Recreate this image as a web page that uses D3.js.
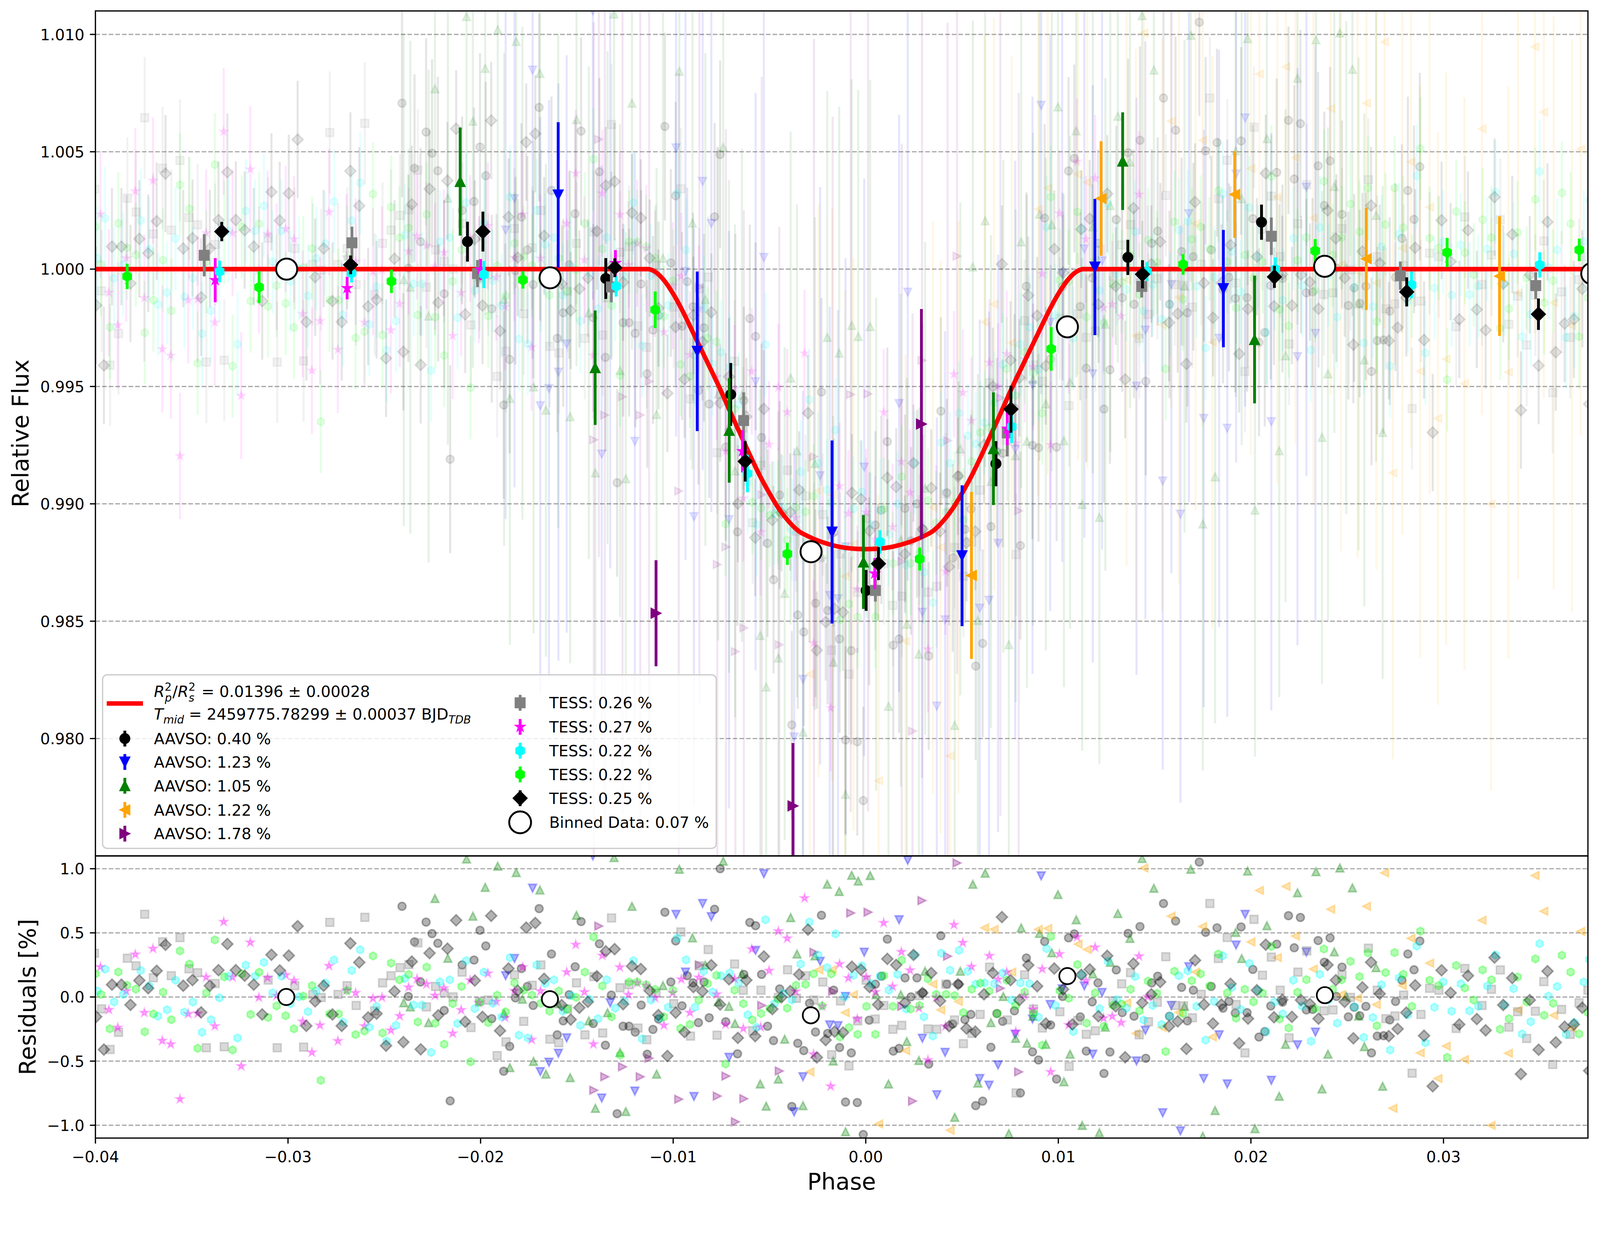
<!DOCTYPE html>
<html><head><meta charset="utf-8">
<script src="https://cdn.jsdelivr.net/npm/d3@7"></script>
<style>html,body{margin:0;padding:0;background:#fff;overflow:hidden;width:100%;height:100%;}svg{display:block;font-family:"DejaVu Sans",sans-serif;}</style>
</head><body>
<svg id="chart" viewBox="0 0 4242 3192" preserveAspectRatio="xMinYMin meet" style="width:100vw;height:100vh;"></svg>
<script>
// ---------------- DATA ----------------
const xTicks = [-0.04,-0.03,-0.02,-0.01,0.00,0.01,0.02,0.03];
const topYTicks = [0.980,0.985,0.990,0.995,1.000,1.005,1.010];
const resYTicks = [-1.0,-0.5,0.0,0.5,1.0];

const legendLabels = ["AAVSO: 0.40 %","AAVSO: 1.23 %","AAVSO: 1.05 %","AAVSO: 1.22 %","AAVSO: 1.78 %",
  "TESS: 0.26 %","TESS: 0.27 %","TESS: 0.22 %","TESS: 0.22 %","TESS: 0.25 %"];
const binnedLabel = "Binned Data: 0.07 %";
const rawErrPct = [0.40,1.23,1.05,1.22,1.78,0.26,0.27,0.22,0.22,0.25];

// transit model (phase, relative flux)
const modelPhase = [-0.0400,-0.0113,-0.0110,-0.0105,-0.0100,-0.0095,-0.0090,-0.0085,-0.0080,-0.0075,-0.0070,-0.0065,-0.0060,-0.0055,-0.0050,-0.0045,-0.0040,-0.0035,-0.0030,-0.0020,-0.0010,0.0000,0.0010,0.0020,0.0030,0.0035,0.0040,0.0045,0.0050,0.0055,0.0060,0.0065,0.0070,0.0075,0.0080,0.0085,0.0090,0.0095,0.0100,0.0105,0.0110,0.0113,0.0375];
const modelFlux = [1.0000,1.0000,0.99992,0.99955,0.99895,0.99820,0.99735,0.99650,0.99565,0.99478,0.99385,0.99295,0.99205,0.99120,0.99045,0.98978,0.98925,0.98885,0.98862,0.98830,0.98812,0.98807,0.98812,0.98830,0.98862,0.98885,0.98925,0.98978,0.99045,0.99120,0.99205,0.99295,0.99385,0.99478,0.99565,0.99650,0.99735,0.99820,0.99895,0.99955,0.99992,1.0000,1.0000];

// binned points per data set: [phase, flux, error]
const aavso040Bin = [[-0.02068,1.00117,0.00085],[-0.0135,0.9996,0.00087],[-0.00701,0.99466,0.00134],[0.00002,0.98631,0.00087],[0.00676,0.99171,0.00096],[0.01361,1.0005,0.00075],[0.02055,1.0020,0.00075]];
const aavso123Bin = [[-0.01597,1.00316,0.0031],[-0.00875,0.99650,0.0034],[-0.00175,0.9888,0.0039],[0.005,0.98779,0.0030],[0.0119,1.00009,0.0029],[0.01857,0.99917,0.0025]];
const aavso105Bin = [[-0.02106,1.00373,0.0023],[-0.01405,0.9958,0.00244],[-0.00709,0.99313,0.00223],[-0.00012,0.98752,0.0020],[0.00663,0.99235,0.0024],[0.01334,1.0046,0.00208],[0.02019,0.9970,0.00272]];
const aavso122Bin = [[0.00549,0.98695,0.00356],[0.01222,1.00301,0.00244],[0.01916,1.00318,0.00185],[0.02599,1.00044,0.00218],[0.03291,0.9997,0.00255]];
const aavso178Bin = [[-0.01089,0.98534,0.00226],[-0.00378,0.97713,0.00268],[0.00289,0.9934,0.0049]];
const tess026Bin = [[-0.03435,1.00059,0.0009],[-0.02668,1.00112,0.00069],[-0.02016,0.99981,0.00058],[-0.01321,0.99924,0.00065],[-0.00634,0.99355,0.0012],[0.0005,0.98631,0.00047],[0.00735,0.99302,0.001],[0.01433,0.99926,0.00047],[0.02106,1.0014,0.0008],[0.02776,0.99972,0.0006],[0.03479,0.9993,0.00057]];
const tess027Bin = [[-0.03378,0.99953,0.00094],[-0.02693,0.99919,0.00048],[-0.0200,0.99998,0.00045],[-0.0130,1.00026,0.00055],[-0.0064,0.99224,0.0009],[0.00047,0.98703,0.00066],[0.00735,0.9932,0.0007]];
const tess022cBin = [[-0.03355,0.9999,0.00046],[-0.0267,0.99983,0.0004],[-0.01983,0.99977,0.00058],[-0.01296,0.99927,0.00044],[-0.00614,0.99129,0.0008],[0.00074,0.98838,0.0005],[0.00758,0.99329,0.0007],[0.0146,0.9999,0.0004],[0.02127,1.0000,0.0005],[0.02834,0.99933,0.00057],[0.035,1.00018,0.00054]];
const tess022lBin = [[-0.03835,0.99969,0.00054],[-0.0315,0.99923,0.00068],[-0.02463,0.99948,0.0005],[-0.0178,0.99954,0.00037],[-0.01093,0.99827,0.00078],[-0.00407,0.98787,0.00047],[0.0028,0.98765,0.00049],[0.00963,0.9966,0.00093],[0.01648,1.0002,0.00044],[0.02334,1.00078,0.0005],[0.03019,1.00071,0.00062],[0.03705,1.00082,0.00048]];
const tess025Bin = [[-0.03344,1.0016,0.00041],[-0.02675,1.00018,0.0004],[-0.01988,1.0016,0.00085],[-0.01303,1.00006,0.0004],[-0.00626,0.99181,0.00086],[0.00066,0.98745,0.0007],[0.00754,0.99403,0.001],[0.01437,0.99978,0.0006],[0.02122,0.99967,0.00047],[0.02809,0.99903,0.00062],[0.03493,0.99808,0.00067]];

// all-data binned points
const binTop = [[-0.03007,1.0000],[-0.01639,0.99963],[-0.00284,0.98796],[0.01047,0.99754],[0.02383,1.00012],[0.0377,0.99981]];
const binRes = [[-0.03009,0.0],[-0.0164,-0.017],[-0.00285,-0.143],[0.01047,0.163],[0.02384,0.014]];

// unbinned residuals per data set: [phase, residual %]
const aavso040Res = [[-0.02408,0.707],[-0.02375,0.004],[-0.02343,0.43],[-0.02312,0.117],[-0.02283,0.584],[-0.02252,0.494],[-0.02222,0.419],[-0.02189,-0.105],[-0.02158,-0.81],[-0.02096,0.25],[-0.02034,0.288],[-0.02003,0.52],[-0.01973,0.398],[-0.01942,-0.169],[-0.0188,-0.579],[-0.01849,-0.385],[-0.01819,-0.007],[-0.01788,0.222],[-0.01757,0.082],[-0.01727,-0.066],[-0.01696,0.689],[-0.01632,0.335],[-0.01602,-0.295],[-0.01571,-0.186],[-0.0154,0.018],[-0.01509,0.236],[-0.01478,0.588],[-0.01415,-0.207],[-0.01383,0.415],[-0.01352,-0.376],[-0.01321,0.015],[-0.01291,-0.91],[-0.0126,-0.228],[-0.01229,-0.228],[-0.01197,-0.274],[-0.01166,-0.063],[-0.01135,-0.446],[-0.01105,-0.253],[-0.01076,-0.172],[-0.01043,0.661],[-0.01012,0.117],[-0.00987,0.437],
 [-0.00954,-0.069],[-0.00927,0.166],[-0.00897,0.11],[-0.00869,-0.2],[-0.0084,0.117],[-0.00813,-0.162],[-0.00785,0.684],[-0.00756,1.0],[-0.00727,-0.193],[-0.00666,-0.443],[-0.00633,0.176],[-0.00602,0.581],[-0.00572,0.556],[-0.00541,0.176],[-0.0051,-0.228],[-0.00479,-0.34],[-0.00447,0.063],[-0.00384,-0.854],[-0.00353,-0.361],[-0.00322,-0.418],[-0.00292,-0.049],[-0.00261,-0.273],[-0.0023,0.637],[-0.00198,-0.284],[-0.00167,0.053],[-0.00136,-0.394],[-0.00105,-0.819],[-0.00075,-0.436],[-0.00044,-0.823],[-0.00013,-1.072],[0.00018,-0.181],[0.0005,0.1],[0.00081,0.162],[0.00112,0.451],[0.00143,-0.422],[0.00173,-0.401],[0.00204,0.149],[0.00235,0.001],[0.00266,0.149],[0.00297,0.032],[0.00327,-0.523],[0.0039,0.478],[0.00421,0.1],[0.00452,-0.211],[0.00482,0.1],[0.00515,-0.176],[0.00546,-0.136],[0.00571,-0.847],
 [0.00607,-0.812],[0.0065,-0.392],[0.00681,-0.129],[0.00711,-0.19],[0.00772,-0.108],[0.00803,-0.748],[0.00834,0.304],[0.00866,-0.428],[0.00897,-0.491],[0.00929,0.433],[0.0096,-0.218],[0.00991,-0.64],[0.01022,0.004],[0.01053,0.461],[0.01083,0.492],[0.01114,-0.155],[0.01145,-0.422],[0.01176,-0.038],[0.01206,0.11],[0.01237,-0.596],[0.01268,-0.429],[0.01301,0.211],[0.01332,-0.122],[0.01362,0.496],[0.01393,-0.15],[0.01424,0.549],[0.01454,-0.478],[0.01485,0.11],[0.01516,0.162],[0.01546,0.729],[0.01577,-0.15],[0.01609,0.592],[0.0164,0.075],[0.0167,-0.186],[0.01701,0.053],[0.01732,1.052],[0.01765,0.504],[0.01794,0.082],[0.01824,0.539],[0.01855,-0.087],[0.01886,-0.035],[0.01919,-0.125],[0.01949,0.546],[0.0198,-0.122],[0.0201,0.215],[0.02042,-0.312],[0.02072,-0.27],[0.02103,-0.07],[0.02134,0.412],
 [0.02164,-0.04],[0.02195,0.634],[0.02225,0.384],[0.02257,0.62],[0.02288,-0.101],[0.0232,-0.097],[0.02349,0.44],[0.02381,0.271],[0.02411,0.461],[0.02444,0.004],[0.02473,0.233],[0.02506,-0.155],[0.02536,-0.08],[0.02565,-0.146],[0.02597,-0.073],[0.02626,-0.436],[0.02656,-0.305],[0.02689,-0.302],[0.02721,-0.179],[0.02751,-0.035],[0.02784,0.131],[0.02815,0.335],[0.02847,0.212],[0.02877,0.436]];
const aavso123Res = [[-0.0187,0.166],[-0.01824,0.3],[-0.0173,0.848],[-0.0169,-0.582],[-0.01645,-0.509],[-0.01596,-0.439],[-0.01553,-0.319],[-0.01417,1.1],[-0.01371,-0.788],[-0.01327,-0.045],[-0.01199,-0.734],[-0.00985,0.644],
 [-0.00936,0.194],[-0.00892,-0.776],[-0.00847,0.729],[-0.00802,0.626],[-0.0071,-0.471],[-0.00572,0.363],[-0.00529,0.961],[-0.00372,-0.896],[-0.00326,-0.622],[-0.00237,0.278],[-0.00187,-0.218],[-0.00144,-0.224],[-0.00105,0.004],[-0.00008,0.349],[0.00173,0.602],[0.00218,1.066],[0.00294,-0.322],[0.00369,-0.762],[0.00412,-0.432],[0.00592,-0.636],
 [0.0064,-0.688],[0.00687,-0.53],[0.00776,-0.291],[0.00866,-0.172],[0.00911,0.944],[0.00958,-0.059],[0.0102,0.063],[0.01135,0.086],[0.01179,-0.446],[0.01227,0.035],[0.01406,-0.499],[0.01452,-0.26],[0.01542,-0.903],[0.01587,-0.066],[0.01634,-1.044],[0.01678,0.236],[0.01755,-0.636],[0.01835,-0.295],[0.01877,-0.678],[0.01923,0.405],[0.0197,0.644],[0.02106,-0.65],
 [0.02242,-0.373],[0.02288,0.349],[0.02335,-0.274]];
const aavso105Res = [[-0.02399,-0.045],[-0.02365,-0.077],[-0.0227,-0.2],[-0.02237,0.768],[-0.0217,0.302],[-0.02073,1.076],[-0.0204,0.63],[-0.01976,0.855],[-0.01911,1.02],[-0.01878,-0.129],[-0.01848,-0.551],[-0.01815,0.97],[-0.01783,-0.017],[-0.01725,-0.502],[-0.01692,0.834],[-0.01661,-0.601],[-0.01597,-0.052],[-0.01535,-0.629],[-0.01502,0.637],[-0.01438,-0.186],[-0.01404,-0.868],[-0.01341,-0.122],[-0.01307,1.087],[-0.01276,-0.432],[-0.01246,-0.893],[-0.01214,0.707],[-0.01086,-0.601],[-0.01053,0.089],[-0.00968,0.996],
 [-0.009,0.461],[-0.00833,0.25],[-0.00766,-0.038],[-0.0074,1.059],[-0.0071,-0.073],[-0.00679,-0.207],[-0.00643,0.18],[-0.00548,-0.678],[-0.00517,-0.851],[-0.00454,-0.64],[-0.00421,-0.329],[-0.0039,0.619],[-0.00357,0.335],[-0.00326,-0.847],[-0.00264,0.321],[-0.002,0.879],[-0.00169,-0.499],[-0.00138,0.823],[-0.00105,-1.051],[-0.00073,0.949],[-0.00039,0.904],[0.00023,0.947],[0.00054,0.018],[0.00118,-0.678],[0.00182,0.018],[0.00213,-0.347],[0.00276,-0.495],[0.00308,0.201],[0.00462,-0.938],[0.00491,0.201],[0.00556,0.879],[0.00582,-0.671],
 [0.0062,0.965],[0.0065,-0.2],[0.00714,0.004],[0.00743,-1.065],[0.00778,-0.322],[0.00807,0.539],[0.00837,-0.361],[0.00868,-0.15],[0.00902,0.496],[0.00935,-0.369],[0.00966,0.345],[0.00998,0.799],[0.01029,-0.661],[0.01061,-0.446],[0.01093,0.602],[0.01124,-1.001],[0.01179,0.18],[0.01213,-1.058],[0.01244,-0.235],[0.0127,0.271],[0.01309,0.651],[0.01372,0.457],[0.01435,1.08],[0.01496,0.848],[0.01655,-0.073],[0.01688,0.996],[0.0175,-1.086],[0.01814,-0.885],[0.01921,0.504],[0.01952,0.3],[0.01983,0.982],[0.02021,-1.027],[0.02083,0.556],[0.02147,-0.774],
 [0.0218,-0.369],[0.02242,0.813],[0.02338,0.977],[0.02369,-0.717],[0.024,-0.446],[0.02433,0.352],[0.02462,1.006],[0.02495,0.007],[0.02527,0.851],[0.02559,-0.148],[0.02589,-0.387],[0.0265,0.229],[0.02684,-0.696]];
const aavso122Res = [[-0.0029,-0.584],[-0.00244,0.212],[-0.00175,0.212],[-0.00107,-0.122],[-0.00064,0.018],[0.00067,-0.99],[0.00207,-0.418],[0.00349,0.1],[0.00389,-0.101],[0.00438,-1.039],[0.00481,-0.035],
 [0.00617,0.539],[0.00666,0.527],[0.00758,0.194],[0.00896,0.527],[0.00945,0.534],[0.01102,0.412],[0.0115,0.37],[0.01355,-0.045],[0.01403,-0.284],[0.01444,1.006],[0.01539,-0.238],[0.01585,0.63],[0.01626,-0.12],[0.01713,0.194],[0.01749,0.549],[0.018,-0.312],[0.02,0.429],[0.02044,0.831],[0.02137,0.307],
 [0.02182,0.862],[0.02231,0.475],[0.02324,0.218],[0.02414,0.684],[0.02468,0.018],[0.02554,-0.01],[0.026,0.707],[0.02651,-0.059],[0.02694,0.968],[0.02737,-0.868],[0.02786,0.089],[0.02831,0.457],[0.02879,-0.436],[0.02928,0.264],[0.02971,-0.636],[0.03014,-0.383],[0.03109,-0.488],[0.032,0.598],[0.03247,-1.001],[0.03337,-0.439],[0.03387,-0.101],[0.03475,0.947],[0.03521,0.669],[0.03572,-0.143],[0.03667,-0.242],[0.03712,0.511]];
const aavso178Res = [[-0.01412,-0.727],[-0.01386,0.553],[-0.01355,-0.622],[-0.01263,-0.544],[-0.01171,-0.622],[-0.01125,-0.477],[-0.00971,-0.797],
 [-0.00864,0.25],[-0.00771,-0.773],[-0.00726,-0.617],[-0.00677,-0.973],[-0.00633,-0.793],[-0.0054,-0.066],[-0.00449,-0.577],[-0.00269,0.349],[-0.00172,0.044],[-0.00078,0.655],[0.00012,0.661],[0.00187,-0.073],[0.00243,-0.812],[0.00292,0.752],[0.00425,0.318],[0.00474,1.045],
 [0.00699,0.068],[0.00794,-0.584]];
const tess026Res = [[-0.04005,0.341],[-0.03968,-0.093],[-0.03924,-0.409],[-0.0388,-0.275],[-0.03834,0.302],[-0.03789,0.243],[-0.03744,0.645],[-0.03699,0.15],[-0.03651,0.43],[-0.03606,0.166],[-0.03561,0.463],[-0.03514,0.22],[-0.03469,0.189],[-0.03424,-0.396],[-0.03378,0.105],[-0.03331,-0.388],[-0.03103,0.132],[-0.03056,-0.396],[-0.02965,0.088],[-0.02919,-0.391],[-0.02871,0.02],[-0.02828,-0.004],[-0.02783,0.582],[-0.0274,0.02],[-0.02693,0.088],[-0.02646,-0.066],[-0.02601,0.621],
 [-0.0255,-0.108],[-0.02509,0.11],[-0.02465,0.166],[-0.02418,0.229],[-0.02372,0.253],[-0.02326,0.422],[-0.02281,-0.077],[-0.02234,0.082],[-0.02189,0.032],[-0.02143,0.001],[-0.02096,0.194],[-0.0205,-0.238],[-0.02006,-0.035],[-0.0196,-0.024],[-0.01914,-0.457],[-0.01868,-0.35],[-0.01824,0.173],[-0.01776,-0.19],[-0.01732,0.091],[-0.01687,0.25],[-0.0164,-0.329],[-0.01594,-0.357],[-0.01548,-0.094],[-0.01502,0.11],[-0.01458,-0.295],[-0.01412,0.159],[-0.01366,-0.281],[-0.0132,0.616],[-0.01276,0.072],[-0.01229,0.096],[-0.01183,-0.242],[-0.01137,-0.333],[-0.01089,0.032],[-0.00997,-0.052],
 [-0.0096,0.507],[-0.0091,-0.305],[-0.00864,0.243],[-0.00818,0.37],[-0.00772,-0.298],[-0.00681,0.257],[-0.00636,0.053],[-0.00587,-0.263],[-0.00544,0.053],[-0.00454,-0.003],[-0.00406,0.212],[-0.0036,-0.01],[-0.00313,0.166],[-0.00269,-0.024],[-0.00223,0.117],[-0.00177,-0.45],[-0.00131,-0.031],[-0.00087,-0.537],[-0.00042,-0.186],[0.00002,0.131],[0.00049,-0.172],[0.00094,-0.066],[0.00141,-0.252],[0.00187,-0.221],[0.00279,0.011],[0.00323,-0.249],[0.00369,-0.252],[0.00416,0.1],[0.00461,-0.179],[0.00507,-0.364],[0.00551,-0.284],[0.00594,-0.136],
 [0.00643,0.233],[0.00735,-0.179],[0.00781,-0.748],[0.00825,0.173],[0.00871,-0.094],[0.00917,-0.242],[0.01008,-0.115],[0.01056,-0.541],[0.01101,-0.183],[0.01145,-0.291],[0.01192,-0.263],[0.01283,-0.031],[0.01329,0.103],[0.01375,0.19],[0.0142,-0.295],[0.01468,-0.193],[0.01514,-0.041],[0.01558,0.314],[0.01606,-0.066],[0.0165,-0.069],[0.01696,-0.162],[0.01742,0.021],[0.01787,0.729],[0.01831,0.3],[0.01877,0.464],[0.01923,-0.059],[0.01969,-0.436],[0.02016,0.605],[0.0206,0.17],[0.02106,0.311],
 [0.02152,0.053],[0.02198,-0.319],[0.02244,0.194],[0.0229,0.36],[0.02379,-0.108],[0.02426,-0.101],[0.02473,0.173],[0.02517,-0.003],[0.0261,0.381],[0.02656,0.053],[0.02701,-0.169],[0.02748,-0.148],[0.02793,0.015],[0.02837,-0.594],[0.02883,-0.136],[0.02928,0.068],[0.02976,0.053],[0.03066,-0.245],[0.03111,0.222],[0.032,-0.066],[0.03249,0.06],[0.03295,0.211],[0.0334,-0.235],[0.03385,-0.115],[0.03432,-0.323],[0.03477,-0.111],[0.03521,0.12],[0.03567,-0.526],[0.03613,-0.097],[0.03658,-0.291],[0.03704,-0.045],[0.0375,0.053]];
const tess027Res = [[-0.03974,0.234],[-0.0393,-0.1],[-0.03884,-0.239],[-0.0384,0.046],[-0.03793,0.332],[-0.03746,-0.123],[-0.03701,0.377],[-0.03653,-0.341],[-0.03609,-0.368],[-0.03561,-0.796],[-0.03518,-0.132],[-0.03469,-0.129],[-0.03425,0.154],[-0.0338,-0.227],[-0.03334,0.586],[-0.03288,0.154],[-0.03243,-0.539],[-0.03196,0.425],[-0.03151,-0.004],[-0.03106,0.15],[-0.03059,0.01],[-0.03012,0.171],[-0.02969,0.127],[-0.02924,-0.191],[-0.02876,-0.432],[-0.02834,-0.221],[-0.02787,0.243],[-0.02741,-0.343],[-0.02696,0.05],[-0.02649,0.032],[-0.02603,-0.227],[-0.02559,-0.011],
 [-0.02512,-0.003],[-0.02466,-0.26],[-0.0242,-0.148],[-0.02374,0.075],[-0.0233,0.141],[-0.02281,0.1],[-0.02237,0.011],[-0.02191,0.07],[-0.02145,-0.284],[-0.02101,-0.101],[-0.02054,0.131],[-0.02009,-0.045],[-0.01962,0.184],[-0.01919,-0.035],[-0.01873,-0.16],[-0.01824,0.049],[-0.01781,0.233],[-0.01735,-0.333],[-0.01689,0.046],[-0.01553,0.194],[-0.01506,0.408],[-0.01461,0.039],[-0.01414,-0.368],[-0.01368,0.323],[-0.01277,0.232],[-0.01233,0.018],[-0.01187,0.11],[-0.0114,0.089],[-0.01094,-0.007],[-0.01048,-0.221],[-0.01002,0.032],
 [-0.00958,0.138],[-0.00913,-0.122],[-0.00867,0.152],[-0.00774,0.021],[-0.00728,-0.214],[-0.00681,0.141],[-0.00636,-0.246],[-0.00592,0.373],[-0.00546,-0.235],[-0.00502,0.205],[-0.00454,0.513],[-0.00408,0.457],[-0.00364,0.044],[-0.00318,0.771],[-0.00271,-0.446],[-0.00226,-0.073],[-0.00182,-0.696],[-0.00136,0.257],[-0.0009,0.148],[-0.00044,-0.172],[0.00002,0.156],[0.00049,0.039],[0.00093,0.578],[0.00139,0.082],[0.00185,0.352],[0.0023,0.208],[0.00276,-0.087],[0.00323,-0.492],[0.00366,-0.003],[0.00414,-0.228],[0.00458,0.563],[0.00504,0.423],[0.00549,0.236],
 [0.00642,0.321],[0.00687,0.138],[0.00732,0.194],[0.00779,-0.27],[0.00824,0.011],[0.00868,-0.097],[0.00916,0.218],[0.0096,-0.584],[0.01006,0.335],[0.01054,-0.218],[0.01097,0.468],[0.01143,0.127],[0.01191,0.387],[0.01235,-0.165],[0.0128,-0.15],[0.01326,-0.2],[0.01419,0.318],[0.01464,0.001]];
const tess022cRes = [[-0.0399,0.046],[-0.0395,0.216],[-0.03903,-0.039],[-0.03856,0.02],[-0.03765,0.207],[-0.03721,0.086],[-0.03675,-0.15],[-0.03628,-0.1],[-0.03584,0.13],[-0.03538,-0.118],[-0.03494,-0.039],[-0.03446,-0.275],[-0.034,-0.177],[-0.03356,-0.007],[-0.03309,0.163],[-0.03262,-0.32],[-0.03219,0.248],[-0.03171,0.163],[-0.03125,0.27],[-0.0308,0.032],[-0.03034,0.163],[-0.02987,-0.052],[-0.02943,0.002],[-0.02896,-0.114],[-0.02853,0.046],[-0.02806,0.109],[-0.02761,0.288],[-0.02715,-0.195],[-0.02669,0.207],[-0.02625,0.368],[-0.02578,-0.236],[-0.0254,-0.075],
 [-0.02488,-0.345],[-0.02439,-0.221],[-0.02393,0.145],[-0.02348,-0.063],[-0.02304,-0.063],[-0.02257,-0.432],[-0.02211,0.117],[-0.0216,0.134],[-0.0212,-0.207],[-0.02075,0.283],[-0.0203,-0.09],[-0.01983,0.194],[-0.01937,-0.049],[-0.01891,-0.155],[-0.01847,0.307],[-0.01801,-0.298],[-0.01755,-0.319],[-0.01709,0.25],[-0.01665,0.105],[-0.01619,0.134],[-0.01573,-0.111],[-0.0153,0.011],[-0.01482,-0.221],[-0.01436,-0.017],[-0.0139,-0.169],[-0.01345,0.135],[-0.01301,-0.087],[-0.01253,-0.031],[-0.01207,0.283],[-0.01161,-0.326],[-0.01115,-0.024],[-0.0107,-0.165],[-0.01026,-0.08],
 [-0.0098,0.459],[-0.00933,0.29],[-0.00887,-0.08],[-0.00841,0.201],[-0.00795,0.039],[-0.00751,0.166],[-0.00706,0.187],[-0.0066,0.11],[-0.00613,-0.139],[-0.00567,-0.238],[-0.00521,0.602],[-0.00475,-0.052],[-0.00429,0.03],[-0.00383,-0.024],[-0.00338,0.257],[-0.00293,0.584],[-0.00247,0.328],[-0.00201,0.229],[-0.00157,0.492],[-0.00111,0.001],[-0.00064,0.169],[-0.0002,0.243],[0.00028,0.103],[0.00074,0.162],[0.0012,0.053],[0.00165,0.176],[0.0021,-0.094],[0.00253,0.328],[0.00302,-0.155],[0.00348,-0.305],[0.00392,0.342],[0.00438,0.208],[0.00484,0.363],[0.0053,0.201],[0.00571,0.1],
 [0.00617,0.11],[0.00668,0.103],[0.00711,0.187],[0.00758,-0.024],[0.00803,0.11],[0.0085,0.103],[0.00897,-0.158],[0.00939,0.377],[0.00984,-0.066],[0.01078,-0.27],[0.01122,0.173],[0.01214,-0.091],[0.01258,0.278],[0.01304,-0.021],[0.01353,-0.087],[0.01399,0.159],[0.01443,-0.179],[0.0149,-0.066],[0.01536,-0.214],[0.0158,-0.15],[0.01626,0.166],[0.01672,0.204],[0.01718,-0.073],[0.01765,-0.336],[0.01809,-0.035],[0.01854,0.321],[0.01901,0.075],[0.01947,-0.097],[0.01992,0.262],[0.02036,0.053],[0.02079,-0.27],[0.02123,-0.038],
 [0.02165,-0.132],[0.0222,0.131],[0.02266,-0.07],[0.02312,-0.345],[0.02358,0.177],[0.02403,-0.024],[0.02448,-0.204],[0.02538,-0.077],[0.02586,-0.315],[0.02633,-0.16],[0.02678,0.096],[0.02723,-0.413],[0.02769,0.149],[0.02815,-0.139],[0.02861,0.398],[0.02906,-0.357],[0.02953,-0.08],[0.02998,0.117],[0.03042,-0.111],[0.0309,0.103],[0.03135,-0.108],[0.03181,-0.073],[0.03227,0.086],[0.0327,0.328],[0.03316,-0.063],[0.03364,0.065],[0.03408,-0.288],[0.03453,-0.193],[0.03499,0.416],[0.03545,0.007],[0.0359,0.082],[0.03637,-0.291],[0.0368,-0.2],[0.03728,0.117],[0.03757,0.293]];
const tess022lRes = [[-0.04,0.18],[-0.03971,0.02],[-0.03925,-0.248],[-0.03881,0.195],[-0.03836,0.091],[-0.0379,0.061],[-0.03744,-0.271],[-0.03699,-0.132],[-0.03649,0.038],[-0.03606,-0.177],[-0.03561,0.359],[-0.03512,0.257],[-0.03469,-0.4],[-0.03424,0.032],[-0.0338,0.445],[-0.03331,0.157],[-0.03288,-0.413],[-0.0324,0.18],[-0.03194,-0.136],[-0.0315,0.193],[-0.03104,-0.159],[-0.03059,-0.07],[-0.03012,-0.146],[-0.02969,-0.248],[-0.02921,0.007],[-0.02875,0.088],[-0.0283,-0.65],[-0.02784,-0.132],[-0.02737,-0.132],[-0.02693,0.05],[-0.02649,-0.293],[-0.02603,-0.266],[-0.02559,0.32],
 [-0.02509,-0.281],[-0.02465,0.264],[-0.02421,0.134],[-0.02374,0.176],[-0.02326,-0.195],[-0.0228,0.233],[-0.02235,-0.204],[-0.02189,-0.368],[-0.02145,-0.052],[-0.02099,0.082],[-0.02052,-0.505],[-0.02006,-0.042],[-0.0196,-0.2],[-0.01914,0.014],[-0.0187,-0.115],[-0.01824,0.11],[-0.01776,0.053],[-0.01733,0.015],[-0.01687,-0.049],[-0.01642,-0.111],[-0.01594,0.046],[-0.0155,-0.094],[-0.01504,-0.003],[-0.01459,0.194],[-0.01414,0.468],[-0.01368,0.086],[-0.0132,-0.155],[-0.01275,-0.453],[-0.01229,0.117],[-0.01187,0.117],[-0.0114,0.096],[-0.01094,0.06],[-0.01048,-0.155],[-0.01002,0.053],
 [-0.00962,-0.244],[-0.00913,-0.214],[-0.00867,-0.024],[-0.00821,0.105],[-0.00775,0.169],[-0.00728,-0.523],[-0.00681,0.053],[-0.00636,-0.052],[-0.00589,-0.179],[-0.00544,-0.129],[-0.00498,-0.091],[-0.00454,-0.017],[-0.00408,-0.087],[-0.00362,0.091],[-0.00313,0.098],[-0.00271,0.18],[-0.00226,-0.069],[-0.00179,0.18],[-0.00133,-0.312],[-0.00087,-0.238],[-0.00042,-0.291],[0.00004,-0.073],[0.0005,-0.291],[0.00094,0.166],[0.00141,-0.073],[0.00187,0.288],[0.00233,-0.094],[0.00279,-0.066],[0.00323,0.141],[0.00366,0.021],[0.00417,0.021],[0.00461,0.011],[0.00506,-0.122],[0.0055,0.06],
 [0.00595,0.108],[0.00641,0.046],[0.00682,-0.129],[0.00732,0.131],[0.00778,-0.066],[0.00825,0.039],[0.00871,-0.129],[0.00916,-0.376],[0.00961,0.471],[0.01007,0.049],[0.01054,-0.01],[0.01099,0.253],[0.01147,-0.204],[0.01191,0.032],[0.01237,-0.228],[0.01283,-0.066],[0.01329,-0.055],[0.01375,0.06],[0.01421,-0.108],[0.01466,0.124],[0.01512,0.028],[0.01557,-0.425],[0.01603,0.201],[0.01647,-0.129],[0.01693,0.127],[0.01739,0.18],[0.01785,0.086],[0.01831,0.335],[0.01877,0.032],[0.01923,-0.165],[0.01968,0.06],[0.02013,-0.038],[0.02061,0.03],[0.02106,0.394],
 [0.02149,-0.172],[0.02196,-0.242],[0.02242,0.037],[0.02288,0.135],[0.02333,-0.091],[0.02379,0.374],[0.02425,0.06],[0.02471,0.134],[0.02517,0.278],[0.02564,0.159],[0.02608,0.345],[0.02654,-0.224],[0.02699,0.19],[0.02746,0.346],[0.02791,0.177],[0.02836,-0.073],[0.0288,0.513],[0.02928,0.131],[0.02974,0.089],[0.03019,-0.471],[0.03066,0.246],[0.03111,0.07],[0.03157,-0.024],[0.03203,0.211],[0.03249,0.134],[0.03294,-0.252],[0.0334,-0.169],[0.03385,0.156],[0.03432,-0.038],[0.03477,0.297],[0.03523,-0.143],[0.03569,-0.049],[0.03615,0.325],[0.0366,0.194],[0.03704,-0.288],[0.0375,-0.122]];
const tess025Res = [[-0.03996,-0.154],[-0.03956,-0.41],[-0.03914,0.096],[-0.03865,0.096],[-0.03818,-0.061],[-0.03772,0.129],[-0.03726,0.068],[-0.03682,0.204],[-0.03636,0.407],[-0.03544,0.088],[-0.03496,0.132],[-0.03451,-0.12],[-0.03406,0.088],[-0.03361,0.209],[-0.03315,0.413],[-0.03271,0.209],[-0.03225,0.166],[-0.03178,0.096],[-0.03134,-0.136],[-0.03086,0.329],[-0.03043,0.207],[-0.02996,0.323],[-0.0295,0.552],[-0.02905,-0.225],[-0.02859,-0.034],[-0.02815,0.088],[-0.02769,-0.136],[-0.02721,-0.225],[-0.02676,0.418],[-0.0263,0.27],[-0.02584,-0.159],[-0.0254,-0.13],
 [-0.02491,-0.38],[-0.02447,0.044],[-0.02401,-0.352],[-0.02357,0.276],[-0.02311,-0.408],[-0.02265,0.342],[-0.0222,-0.143],[-0.02172,0.377],[-0.02127,0.598],[-0.0208,-0.193],[-0.0203,0.128],[-0.0199,-0.155],[-0.01945,0.633],[-0.01899,-0.263],[-0.01855,0.222],[-0.01807,0.049],[-0.01763,0.541],[-0.01716,0.577],[-0.0167,0.142],[-0.01579,-0.063],[-0.01532,-0.176],[-0.01487,-0.084],[-0.01443,-0.038],[-0.01396,0.162],[-0.0135,0.356],[-0.01304,0.373],[-0.0126,-0.056],[-0.01214,0.24],[-0.01168,0.218],[-0.01122,0.049],[-0.01077,-0.141],[-0.0103,-0.46],[-0.00987,-0.122],
 [-0.00941,-0.274],[-0.00895,0.077],[-0.00848,0.044],[-0.00802,0.248],[-0.00756,-0.059],[-0.0071,0.138],[-0.00664,-0.319],[-0.0062,0.131],[-0.00574,-0.305],[-0.00529,0.316],[-0.00485,-0.094],[-0.00438,-0.003],[-0.00392,0.046],[-0.00346,0.176],[-0.003,0.525],[-0.00254,-0.471],[-0.00208,-0.336],[-0.00162,-0.27],[-0.00118,-0.277],[-0.00072,0.236],[-0.00025,0.212],[0.0002,0.077],[0.00064,-0.059],[0.00112,0.297],[0.00158,0.25],[0.00203,-0.045],[0.00248,0.328],[0.00294,0.032],[0.0034,0.187],[0.00386,-0.031],[0.00433,-0.228],[0.00479,0.1],[0.00523,-0.246],[0.00569,-0.27],
 [0.00614,0.021],[0.0066,0.187],[0.00707,0.623],[0.00752,0.131],[0.00798,-0.024],[0.00844,0.248],[0.0089,0.084],[0.00935,-0.207],[0.00979,0.222],[0.01025,0.06],[0.01073,-0.214],[0.01119,0.173],[0.01163,0.215],[0.01208,-0.15],[0.01254,0.321],[0.01298,-0.073],[0.01347,-0.47],[0.0139,0.26],[0.01436,-0.045],[0.01483,0.021],[0.01529,0.117],[0.01575,-0.228],[0.0162,-0.19],[0.01665,-0.404],[0.0171,0.286],[0.01756,-0.059],[0.01803,-0.207],[0.01847,-0.059],[0.01894,0.103],[0.01939,-0.361],[0.01985,-0.169],[0.02031,0.053],[0.02077,0.408],[0.0212,-0.158],
 [0.02163,-0.022],[0.02213,-0.155],[0.0226,-0.024],[0.02306,-0.055],[0.02351,-0.169],[0.02398,0.25],[0.02441,0.131],[0.02487,-0.038],[0.02532,-0.322],[0.02579,0.075],[0.02624,0.271],[0.02669,0.025],[0.02716,-0.305],[0.02762,-0.249],[0.02807,-0.122],[0.02853,0.091],[0.02899,-0.302],[0.02944,-0.696],[0.0299,0.208],[0.03037,0.032],[0.03082,-0.214],[0.03127,0.166],[0.03173,-0.172],[0.03219,-0.26],[0.03265,0.307],[0.0331,-0.062],[0.03357,0.148],[0.03402,-0.601],[0.03448,-0.024],[0.03494,-0.411],[0.0354,0.201],[0.03583,-0.354],[0.03629,-0.232],[0.03677,-0.214],[0.03721,-0.084],[0.03756,-0.575]];

// ---------------- STYLE / LAYOUT ----------------
const resSets = [aavso040Res,aavso123Res,aavso105Res,aavso122Res,aavso178Res,tess026Res,tess027Res,tess022cRes,tess022lRes,tess025Res];
const binSets = [aavso040Bin,aavso123Bin,aavso105Bin,aavso122Bin,aavso178Bin,tess026Bin,tess027Bin,tess022cBin,tess022lBin,tess025Bin];
const styles = [
  {m:'o',c:'#000000'},{m:'v',c:'#0000ff'},{m:'^',c:'#008000'},{m:'<',c:'#ffa500'},{m:'>',c:'#800080'},
  {m:'s',c:'#808080'},{m:'*',c:'#ff00ff'},{m:'h',c:'#00ffff'},{m:'h',c:'#00ff00'},{m:'D',c:'#000000'}];

const L=253, R=4210, T1=29, B1=2269, T2=2269, B2=3017;
const FS=41, LFS=61;
const svg = d3.select('#chart');

const x = d3.scaleLinear().domain([-0.04,0.0375]).range([L,R]);
const y1 = d3.scaleLinear().domain([0.975,1.011]).range([B1,T1]);
const y2 = d3.scaleLinear().domain([-1.1,1.1]).range([B2,T2]);
const model = d3.scaleLinear().domain(modelPhase).range(modelFlux).clamp(true);

function markerPath(t,m){
  const r=m/2;
  const poly = pts => 'M'+pts.map(p=>p[0].toFixed(2)+','+p[1].toFixed(2)).join('L')+'Z';
  if(t==='o') return `M${r},0A${r},${r} 0 1,1 ${-r},0A${r},${r} 0 1,1 ${r},0Z`;
  if(t==='s') return poly([[-r,-r],[r,-r],[r,r],[-r,r]]);
  if(t==='D'){const d=r*Math.SQRT2; return poly([[0,-d],[d,0],[0,d],[-d,0]]);}
  if(t==='^') return poly([[0,-r],[r,r],[-r,r]]);
  if(t==='v') return poly([[0,r],[r,-r],[-r,-r]]);
  if(t==='<') return poly([[-r,0],[r,-r],[r,r]]);
  if(t==='>') return poly([[r,0],[-r,-r],[-r,r]]);
  if(t==='h') return poly(d3.range(6).map(k=>{const a=-Math.PI/2+k*Math.PI/3;return [r*Math.cos(a),r*Math.sin(a)];}));
  if(t==='*') return poly(d3.range(10).map(k=>{const a=-Math.PI/2+k*Math.PI/5;const rr=k%2?r*0.381966:r;return [rr*Math.cos(a),rr*Math.sin(a)];}));
}

const defs = svg.append('defs');
defs.append('clipPath').attr('id','clipTop').append('rect').attr('x',L).attr('y',T1).attr('width',R-L).attr('height',B1-T1);
defs.append('clipPath').attr('id','clipBot').append('rect').attr('x',L).attr('y',T2).attr('width',R-L).attr('height',B2-T2);

// grid
function grid(ticks, ys){
  svg.append('g').selectAll('line').data(ticks).join('line')
    .attr('x1',L).attr('x2',R).attr('y1',d=>ys(d)).attr('y2',d=>ys(d))
    .attr('stroke','#aaaaaa').attr('stroke-width',3.3).attr('stroke-dasharray','12.3,5.3');
}
grid(topYTicks,y1); grid(resYTicks,y2);

// ---------- top panel ----------
const gTop = svg.append('g').attr('clip-path','url(#clipTop)');
resSets.forEach((ds,i)=>{
  const st=styles[i], e=rawErrPct[i]/100;
  const g=gTop.append('g');
  g.selectAll('line').data(ds).join('line')
    .attr('x1',d=>x(d[0])).attr('x2',d=>x(d[0]))
    .attr('y1',d=>y1(model(d[0])+d[1]/100-e)).attr('y2',d=>y1(model(d[0])+d[1]/100+e))
    .attr('stroke',st.c).attr('stroke-opacity',0.1).attr('stroke-width',5.5);
  g.selectAll('path').data(ds).join('path')
    .attr('d',markerPath(st.m,21))
    .attr('transform',d=>`translate(${x(d[0])},${y1(model(d[0])+d[1]/100)})`)
    .attr('fill',st.c).attr('fill-opacity',0.1).attr('stroke',st.c).attr('stroke-opacity',0.1).attr('stroke-width',4);
});
const mline = d3.line().x((d,i)=>x(modelPhase[i])).y((d,i)=>y1(modelFlux[i])).curve(d3.curveMonotoneX);
gTop.append('path').attr('d',mline(modelPhase)).attr('fill','none').attr('stroke','#ff0000').attr('stroke-width',12).attr('stroke-linejoin','round');
binSets.forEach((ds,i)=>{
  const st=styles[i];
  const g=gTop.append('g');
  g.selectAll('line').data(ds).join('line')
    .attr('x1',d=>x(d[0])).attr('x2',d=>x(d[0]))
    .attr('y1',d=>y1(d[1]-d[2])).attr('y2',d=>y1(d[1]+d[2]))
    .attr('stroke',st.c).attr('stroke-width',7.5);
  g.selectAll('path').data(ds).join('path')
    .attr('d',markerPath(st.m,26))
    .attr('transform',d=>`translate(${x(d[0])},${y1(d[1])})`)
    .attr('fill',st.c).attr('stroke',st.c).attr('stroke-width',3);
});
gTop.append('g').selectAll('path').data(binTop).join('path')
  .attr('d',markerPath('o',56)).attr('transform',d=>`translate(${x(d[0])},${y1(d[1])})`)
  .attr('fill','#ffffff').attr('stroke','#000000').attr('stroke-width',5);

// ---------- residual panel ----------
const gBot = svg.append('g').attr('clip-path','url(#clipBot)');
resSets.forEach((ds,i)=>{
  const st=styles[i];
  gBot.append('g').selectAll('path').data(ds).join('path')
    .attr('d',markerPath(st.m,21))
    .attr('transform',d=>`translate(${x(d[0])},${y2(d[1])})`)
    .attr('fill',st.c).attr('fill-opacity',0.3).attr('stroke',st.c).attr('stroke-opacity',0.3).attr('stroke-width',4);
});
gBot.append('g').selectAll('path').data(binRes).join('path')
  .attr('d',markerPath('o',43)).attr('transform',d=>`translate(${x(d[0])},${y2(d[1])})`)
  .attr('fill','#ffffff').attr('stroke','#000000').attr('stroke-width',4.5);

// ---------- axes ----------
svg.append('rect').attr('x',L).attr('y',T1).attr('width',R-L).attr('height',B1-T1).attr('fill','none').attr('stroke','#000').attr('stroke-width',3.3);
svg.append('rect').attr('x',L).attr('y',T2).attr('width',R-L).attr('height',B2-T2).attr('fill','none').attr('stroke','#000').attr('stroke-width',3.3);

function yAxis(ticks, ys, fmt){
  const g=svg.append('g');
  g.selectAll('line').data(ticks).join('line').attr('x1',L-14.6).attr('x2',L).attr('y1',d=>ys(d)).attr('y2',d=>ys(d)).attr('stroke','#000').attr('stroke-width',3.3);
  g.selectAll('text').data(ticks).join('text').attr('x',L-29).attr('y',d=>ys(d)+FS*0.365)
    .attr('text-anchor','end').attr('font-size',FS).attr('fill','#000').text(d=>fmt(d));
}
yAxis(topYTicks,y1,d3.format('.3f'));
yAxis(resYTicks,y2,d3.format('.1f'));
const gx=svg.append('g');
gx.selectAll('line').data(xTicks).join('line').attr('x1',d=>x(d)).attr('x2',d=>x(d)).attr('y1',B2).attr('y2',B2+14.6).attr('stroke','#000').attr('stroke-width',3.3);
gx.selectAll('text').data(xTicks).join('text').attr('x',d=>x(d)).attr('y',3081).attr('text-anchor','middle').attr('font-size',FS).attr('fill','#000').text(d=>d3.format('.2f')(d));

svg.append('text').attr('x',(L+R)/2).attr('y',3154).attr('text-anchor','middle').attr('font-size',LFS).text('Phase');
svg.append('text').attr('transform',`translate(76,${(T1+B1)/2}) rotate(-90)`).attr('text-anchor','middle').attr('font-size',LFS).text('Relative Flux');
svg.append('text').attr('transform',`translate(94,${(T2+B2)/2}) rotate(-90)`).attr('text-anchor','middle').attr('font-size',LFS).text('Residuals [%]');

// ---------- legend ----------
const lg = svg.append('g');
lg.append('rect').attr('x',272).attr('y',1789).attr('width',1627).attr('height',460).attr('rx',12).attr('ry',12)
  .attr('fill','#ffffff').attr('fill-opacity',0.8).attr('stroke','#cccccc').attr('stroke-width',3.3);
lg.append('line').attr('x1',283).attr('x2',379).attr('y1',1865).attr('y2',1865).attr('stroke','#ff0000').attr('stroke-width',12);
const t1 = lg.append('text').attr('x',408).attr('y',1848).attr('font-size',FS);
t1.append('tspan').attr('font-style','italic').text('R');
t1.append('tspan').attr('font-size',29).attr('dy',-17).text('2');
t1.append('tspan').attr('font-size',29).attr('font-style','italic').attr('dx',-18).attr('dy',29).text('p');
t1.append('tspan').attr('dy',-12).attr('dx',2).text('/');
t1.append('tspan').attr('font-style','italic').text('R');
t1.append('tspan').attr('font-size',29).attr('dy',-17).text('2');
t1.append('tspan').attr('font-size',29).attr('font-style','italic').attr('dx',-18).attr('dy',29).text('s');
t1.append('tspan').attr('dy',-12).attr('dx',6).text(' = 0.01396 ± 0.00028');
const t2 = lg.append('text').attr('x',408).attr('y',1908).attr('font-size',FS);
t2.append('tspan').attr('font-style','italic').text('T');
t2.append('tspan').attr('font-size',29).attr('font-style','italic').attr('dy',10).text('mid');
t2.append('tspan').attr('dy',-10).text(' = 2459775.78299 ± 0.00037 BJD');
t2.append('tspan').attr('font-size',29).attr('font-style','italic').attr('dy',10).text('TDB');

const legendPos = [[331,1958],[331,2020],[331,2083],[331,2147],[331,2210],[1379,1863],[1379,1927],[1379,1990],[1379,2053],[1379,2116]];
legendLabels.forEach((lab,i)=>{
  const [hx,hy]=legendPos[i], st=styles[i];
  lg.append('line').attr('x1',hx).attr('x2',hx).attr('y1',hy-21).attr('y2',hy+21).attr('stroke',st.c).attr('stroke-width',7.5);
  lg.append('path').attr('d',markerPath(st.m,26)).attr('transform',`translate(${hx},${hy})`).attr('fill',st.c).attr('stroke',st.c).attr('stroke-width',3);
  lg.append('text').attr('x',hx+77).attr('y',hy+15).attr('font-size',FS).text(lab);
});
lg.append('path').attr('d',markerPath('o',58)).attr('transform','translate(1379,2180)').attr('fill','#fff').attr('stroke','#000').attr('stroke-width',5);
lg.append('text').attr('x',1456).attr('y',2195).attr('font-size',FS).text(binnedLabel);
</script>
</body></html>
